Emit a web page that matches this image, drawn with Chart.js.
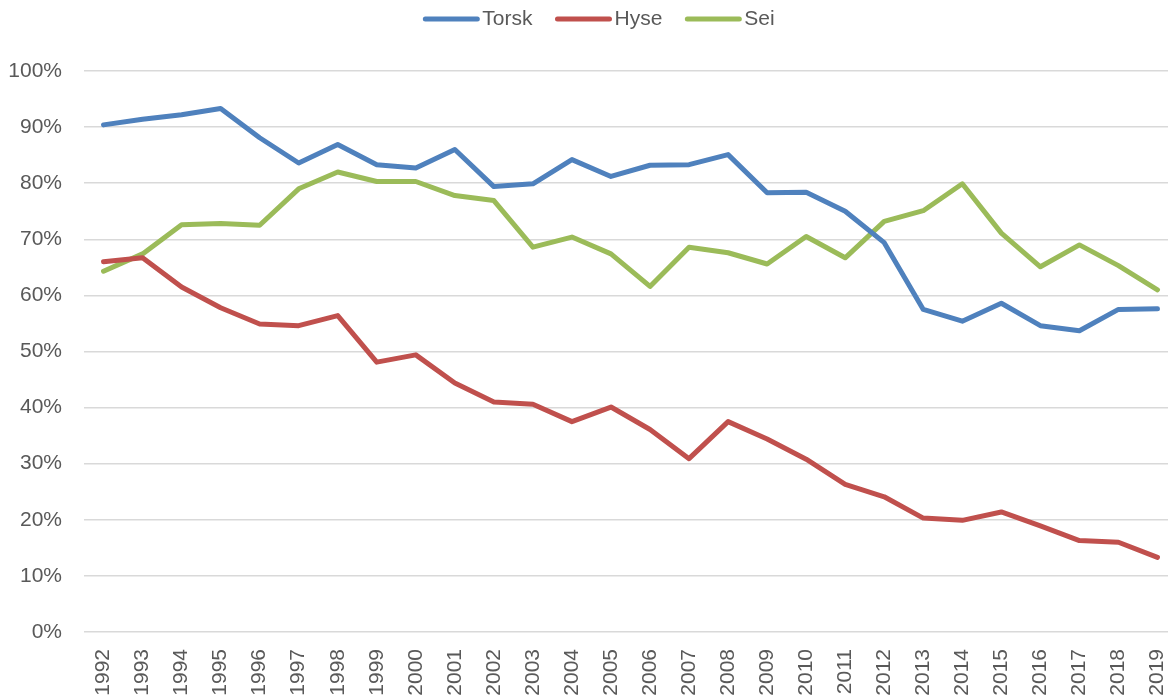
<!DOCTYPE html>
<html>
<head>
<meta charset="utf-8">
<script src="https://cdn.jsdelivr.net/npm/chart.js@4/dist/chart.umd.min.js"></script>
<style>
  html, body { margin: 0; padding: 0; overflow: hidden; background: #fff; }
  canvas { display: block; }
</style>
</head>
<body>
<canvas id="chart" width="1177" height="695"></canvas>
<script>
// Data
const years = ['1992','1993','1994','1995','1996','1997','1998','1999','2000','2001',
  '2002','2003','2004','2005','2006','2007','2008','2009','2010','2011',
  '2012','2013','2014','2015','2016','2017','2018','2019'];
const torsk = [90.4, 91.4, 92.2, 93.3, 88.1, 83.6, 86.9, 83.3, 82.7, 86.0,
  79.4, 79.9, 84.2, 81.2, 83.2, 83.3, 85.1, 78.3, 78.4, 75.0,
  69.4, 57.5, 55.4, 58.6, 54.6, 53.7, 57.5, 57.6];
const hyse = [66.0, 66.7, 61.5, 57.8, 54.9, 54.6, 56.4, 48.1, 49.4, 44.4,
  41.0, 40.6, 37.5, 40.1, 36.1, 30.9, 37.5, 34.4, 30.8, 26.3,
  24.1, 20.3, 19.9, 21.4, 18.9, 16.3, 16.0, 13.3];
const sei = [64.3, 67.4, 72.6, 72.8, 72.5, 79.0, 82.0, 80.3, 80.3, 77.8,
  76.9, 68.6, 70.4, 67.4, 61.6, 68.6, 67.6, 65.6, 70.5, 66.7,
  73.2, 75.1, 79.9, 71.1, 65.1, 69.0, 65.3, 61.0];
const yTicks = [0, 10, 20, 30, 40, 50, 60, 70, 80, 90, 100];

const textColor = '#595959';
const fontFamily = '"Liberation Sans", Arial, sans-serif';

function series(label, data, color) {
  return {
    label, data,
    borderColor: color, backgroundColor: color,
    borderWidth: 5, pointRadius: 0, tension: 0,
    borderCapStyle: 'round', borderJoinStyle: 'round'
  };
}

// Legend drawn on top, centered like the original
const topLegend = {
  id: 'topLegend',
  afterDraw(chart) {
    const ctx = chart.ctx;
    const items = chart.data.datasets;
    const lineLen = 56, gap = 3, itemGap = 23, y = 19;
    ctx.save();
    ctx.font = '21px ' + fontFamily;
    let total = 0;
    items.forEach((d, i) => {
      total += lineLen + gap + ctx.measureText(d.label).width + (i ? itemGap : 0);
    });
    let x = 599 - total / 2;
    items.forEach(d => {
      ctx.strokeStyle = d.borderColor;
      ctx.lineWidth = 5;
      ctx.lineCap = 'round';
      ctx.beginPath();
      ctx.moveTo(x + 2, y);
      ctx.lineTo(x + lineLen - 2, y);
      ctx.stroke();
      x += lineLen + gap;
      ctx.fillStyle = textColor;
      ctx.textBaseline = 'middle';
      ctx.textAlign = 'left';
      ctx.fillText(d.label, x, y);
      x += ctx.measureText(d.label).width + itemGap;
    });
    ctx.restore();
  }
};

new Chart(document.getElementById('chart'), {
  type: 'line',
  data: {
    labels: years,
    datasets: [
      series('Torsk', torsk, '#4F81BD'),
      series('Hyse', hyse, '#C0504D'),
      series('Sei', sei, '#9BBB59')
    ]
  },
  options: {
    responsive: false,
    animation: false,
    layout: { padding: { top: 71, left: 0, right: 0, bottom: 0 } },
    plugins: {
      legend: { display: false },
      tooltip: { enabled: false }
    },
    scales: {
      x: {
        offset: true,
        grid: { display: false, drawTicks: false },
        border: { display: false },
        ticks: {
          color: textColor, font: { family: fontFamily, size: 21 },
          minRotation: 90, maxRotation: 90, padding: 17, autoSkip: false
        },
        afterFit(scale) {
          scale.height = 63;
          scale.paddingLeft = 0;
          scale.paddingRight = 0;
        }
      },
      y: {
        min: 0, max: 100,
        afterBuildTicks(scale) { scale.ticks = yTicks.map(v => ({ value: v })); },
        grid: { color: '#D9D9D9', lineWidth: 1.5, drawTicks: false },
        border: { display: false },
        ticks: {
          color: textColor, font: { family: fontFamily, size: 21 },
          padding: 22,
          callback: v => v + '%'
        },
        afterFit(scale) { scale.width = 84; }
      }
    }
  },
  plugins: [topLegend]
});
</script>
</body>
</html>
